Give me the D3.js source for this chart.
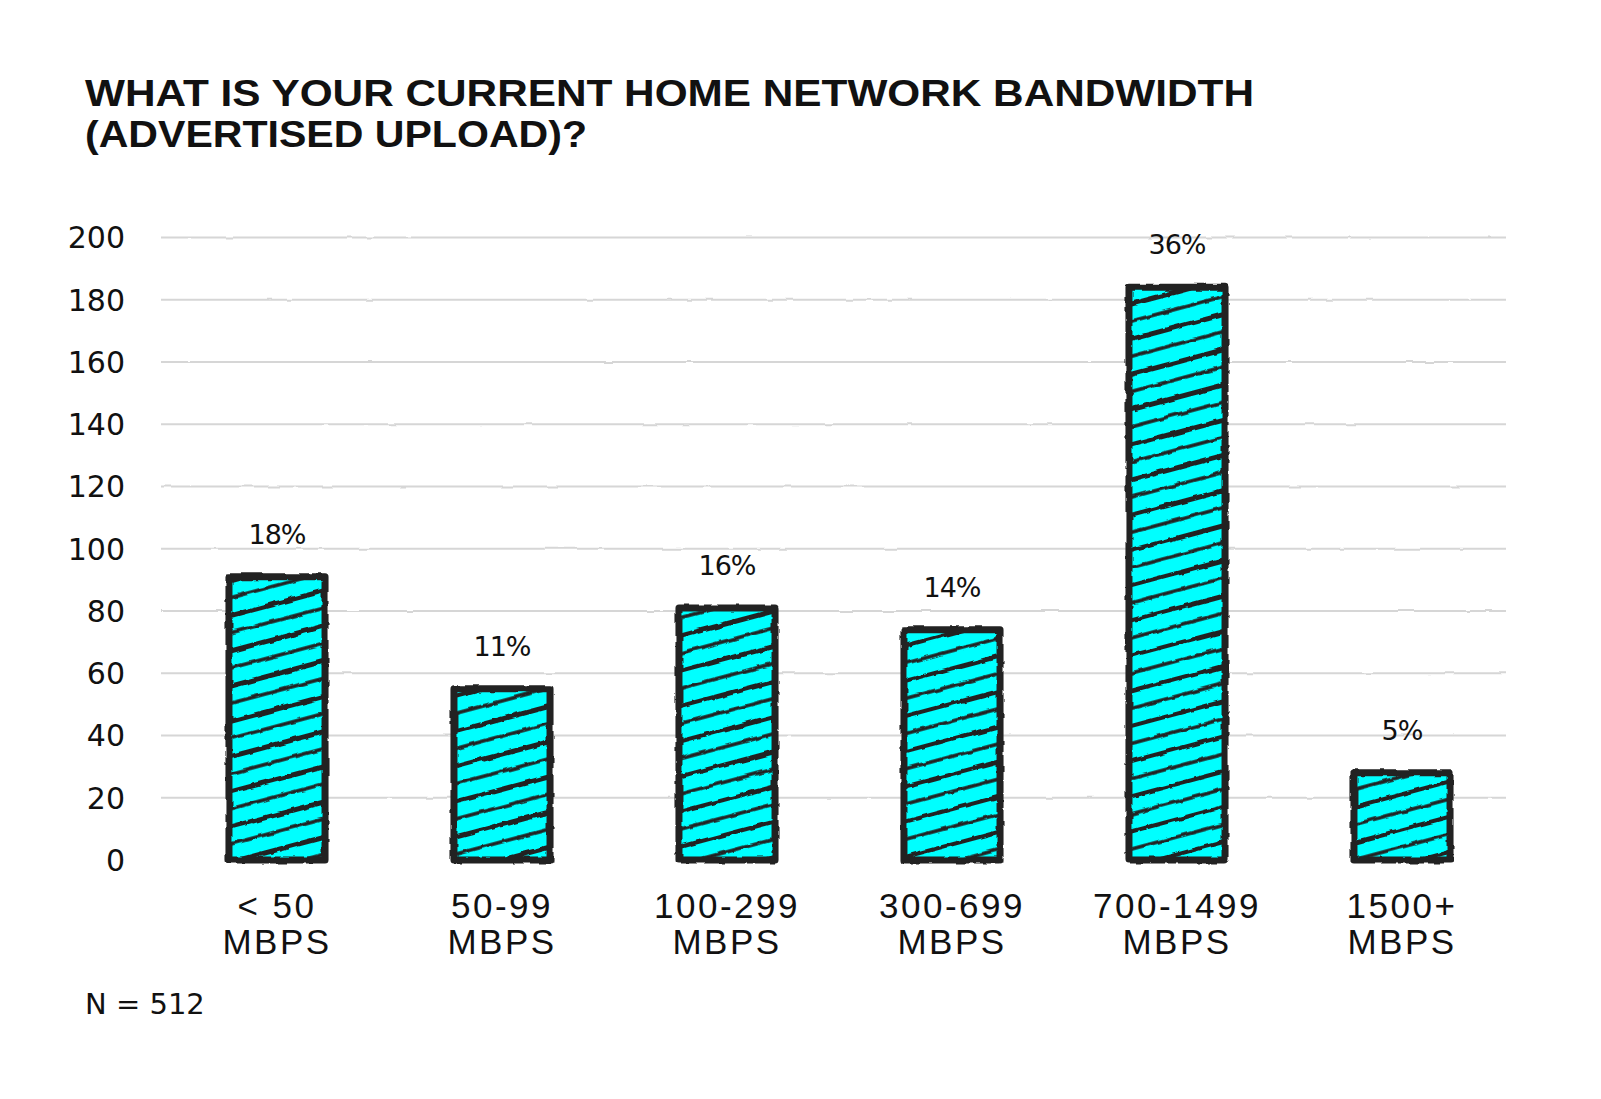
<!DOCTYPE html>
<html>
<head>
<meta charset="utf-8">
<script src="https://cdn.jsdelivr.net/npm/d3@7"></script>
<style>
  html, body { margin: 0; padding: 0; background: #fff; }
  svg { display: block; }
</style>
</head>
<body>
<svg id="chart" width="1601" height="1099"></svg>
<script>
// ---- data ----
const categories = ["< 50|MBPS", "50-99|MBPS", "100-299|MBPS", "300-699|MBPS", "700-1499|MBPS", "1500+|MBPS"];
const counts = [91, 55, 81, 74, 184, 28];
const percentLabels = ["18%", "11%", "16%", "14%", "36%", "5%"];
const yTicks = [0, 20, 40, 60, 80, 100, 120, 140, 160, 180, 200];
const titleLines = ["WHAT IS YOUR CURRENT HOME NETWORK BANDWIDTH", "(ADVERTISED UPLOAD)?"];
const footnote = "N = 512";

// ---- layout ----
const svg = d3.select("#chart");
const plotLeft = 161, plotRight = 1506;
const x = d3.scaleBand().domain(categories).range([164.5, 1514.5])
  .paddingInner(0.573).paddingOuter(0.2865);
const y = d3.scaleLinear().domain([0, 200]).range([860, 237.5]);

const ink = "#222222";
const handFont = "'Liberation Sans Narrow', 'Liberation Sans', Arial, sans-serif";
const numFont = "'DejaVu Sans', sans-serif";

const defs = svg.append("defs");
// rough filter
const f = defs.append("filter").attr("id", "rough").attr("x", "-5%").attr("y", "-5%").attr("width", "110%").attr("height", "110%");
f.append("feTurbulence").attr("type", "fractalNoise").attr("baseFrequency", 0.09).attr("numOctaves", 2).attr("seed", 3).attr("result", "noise");
f.append("feDisplacementMap").attr("in", "SourceGraphic").attr("in2", "noise").attr("scale", 3.5)
  .attr("xChannelSelector", "R").attr("yChannelSelector", "G");
const f2 = defs.append("filter").attr("id", "roughLine").attr("x", "0").attr("y", "-50%").attr("width", "100%").attr("height", "200%");
f2.append("feTurbulence").attr("type", "fractalNoise").attr("baseFrequency", 0.05).attr("numOctaves", 1).attr("seed", 7).attr("result", "noise");
f2.append("feDisplacementMap").attr("in", "SourceGraphic").attr("in2", "noise").attr("scale", 2.5)
  .attr("xChannelSelector", "R").attr("yChannelSelector", "G");

// hachure pattern
const pat = defs.append("pattern").attr("id", "hatch").attr("patternUnits", "userSpaceOnUse")
  .attr("width", 240).attr("height", 34).attr("patternTransform", "rotate(-15)");
pat.append("rect").attr("width", 240).attr("height", 34).attr("fill", "#00FFFF");
pat.append("line").attr("x1", 0).attr("x2", 240).attr("y1", 8).attr("y2", 8)
  .attr("stroke", ink).attr("stroke-width", 4.2);
pat.append("line").attr("x1", 0).attr("x2", 240).attr("y1", 25).attr("y2", 25)
  .attr("stroke", ink).attr("stroke-width", 3.6);
pat.append("line").attr("x1", 30).attr("x2", 150).attr("y1", 10).attr("y2", 10)
  .attr("stroke", ink).attr("stroke-width", 2.2);

// ---- title ----
svg.append("g").selectAll("text").data(titleLines).join("text")
  .attr("x", 85).attr("y", (d, i) => 106 + i * 41)
  .attr("font-family", handFont).attr("font-size", 36).attr("font-weight", "bold")
  .attr("fill", "#111")
  .attr("textLength", (d, i) => i === 0 ? 1169 : 502).attr("lengthAdjust", "spacingAndGlyphs")
  .text(d => d);

// ---- gridlines ----
svg.append("g").attr("filter", "url(#roughLine)").selectAll("line").data(yTicks.filter(t => t > 0)).join("line")
  .attr("x1", plotLeft).attr("x2", plotRight)
  .attr("y1", d => y(d)).attr("y2", d => y(d))
  .attr("stroke", "#d6d6d6").attr("stroke-width", 2);

// ---- y tick labels ----
svg.append("g").selectAll("text").data(yTicks).join("text")
  .attr("x", 125).attr("y", d => y(d)).attr("dy", "0.36em")
  .attr("text-anchor", "end")
  .attr("font-family", numFont).attr("font-size", 30).attr("fill", "#111")
  .text(d => d);

// ---- bars ----
const bars = svg.append("g").attr("filter", "url(#rough)");
bars.selectAll("rect").data(counts).join("rect")
  .attr("x", (d, i) => x(categories[i]))
  .attr("y", d => y(d))
  .attr("width", x.bandwidth())
  .attr("height", d => y(0) - y(d))
  .attr("fill", "url(#hatch)")
  .attr("stroke", ink).attr("stroke-width", 7).attr("stroke-linejoin", "round");

// ---- baseline ----
svg.append("line").attr("filter", "url(#roughLine)")
  .attr("x1", plotLeft).attr("x2", plotRight).attr("y1", y(0)).attr("y2", y(0))
  .attr("stroke", ink).attr("stroke-width", 2.5);

// ---- percent labels ----
svg.append("g").selectAll("text").data(counts).join("text")
  .attr("x", (d, i) => x(categories[i]) + x.bandwidth() / 2)
  .attr("y", d => y(d) - 33)
  .attr("text-anchor", "middle")
  .attr("font-family", numFont).attr("font-size", 27).attr("fill", "#111")
  .attr("letter-spacing", -1)
  .text((d, i) => percentLabels[i]);

// ---- x labels ----
const xl = svg.append("g").selectAll("text").data(categories).join("text")
  .attr("text-anchor", "middle")
  .attr("font-family", handFont).attr("font-size", 35).attr("fill", "#111")
  .attr("letter-spacing", 2.5);
xl.each(function(d) {
  const parts = d.split("|");
  const cx = x(d) + x.bandwidth() / 2;
  d3.select(this).selectAll("tspan").data(parts).join("tspan")
    .attr("x", cx).attr("y", (p, j) => 918 + j * 36).text(p => p);
});

// ---- footnote ----
svg.append("text").attr("x", 85).attr("y", 1014)
  .attr("font-family", numFont).attr("font-size", 29).attr("fill", "#111")
  .text(footnote);
</script>
</body>
</html>
